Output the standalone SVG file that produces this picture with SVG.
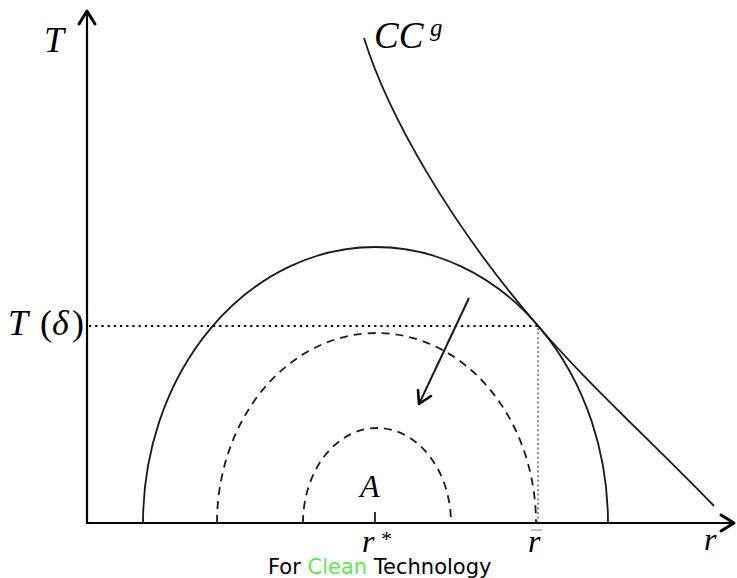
<svg xmlns="http://www.w3.org/2000/svg" width="737" height="578" viewBox="0 0 737 578">
<style>
.ax{stroke:#000;stroke-width:2.2;fill:none}
.ah{stroke:#000;stroke-width:3;fill:none;stroke-linecap:round;stroke-linejoin:round}
.solid{stroke:#1a1a1a;stroke-width:1.8;fill:none}
.dash{stroke:#1a1a1a;stroke-width:1.8;fill:none;stroke-dasharray:8 6}
.dot{stroke:#000;stroke-width:2;fill:none;stroke-dasharray:2.2 4}
.vdot{stroke:#666;stroke-width:1.5;fill:none;stroke-dasharray:2 2.6}
.m{font-family:"Liberation Serif",serif;font-style:italic;fill:#000}
.mu{font-family:"Liberation Serif",serif;fill:#000}
.cap{font-family:"DejaVu Sans","Liberation Sans",sans-serif;font-size:21px;fill:#000}
</style>
<rect width="737" height="578" fill="#fff"/>
<g id="axes">
<line class="ax" x1="87" y1="524" x2="87" y2="11"/>
<polyline class="ah" points="79,24 87,11 95,24"/>
<line class="ax" x1="86" y1="523" x2="734" y2="523"/>
<polyline class="ah" points="721,515 734,523 721,531"/>
<line class="ax" x1="375" y1="512" x2="375" y2="523" style="stroke-width:1.6"/>
</g>
<g id="ellipses">
<path class="solid" d="M143,523 A232.5,276 0 0 1 608,523"/>
<path class="dash" d="M217,523 A159.5,190 0 0 1 536,523"/>
<path class="dash" d="M303,523 A74,95 0 0 1 451,523"/>
</g>
<g id="ccg">
<path class="solid" d="M364,38 C388,115 450,224 538,326 C588,384 650,440 714,506"/>
</g>
<g id="guides">
<line class="dot" x1="89" y1="326" x2="538" y2="326"/>
<line class="vdot" x1="538" y1="328" x2="538" y2="522"/>
</g>
<g id="arrow">
<line class="solid" x1="469" y1="298" x2="419" y2="404" style="stroke-width:2"/>
<polyline class="ah" points="418,390 419,404 431,396" style="stroke-width:2.6"/>
</g>
<g id="labels">
<text class="m" x="44" y="52" font-size="36">T</text>
<text class="m" x="374" y="48" font-size="37">CC</text>
<text class="m" x="430" y="36" font-size="25">g</text>
<text class="m" x="8" y="335" font-size="36">T</text>
<text class="mu" x="40" y="335" font-size="36">(</text>
<text class="m" x="52" y="335" font-size="36">δ</text>
<text class="mu" x="72" y="335" font-size="36">)</text>
<text class="m" x="360" y="497" font-size="32">A</text>
<text class="m" x="362" y="552" font-size="32">r</text>
<text class="mu" x="381" y="546" font-size="22">*</text>
<text class="m" x="528" y="552" font-size="32">r</text>
<line x1="531" y1="530" x2="542" y2="530" stroke="#999" stroke-width="1.2"/>
<text class="m" x="704" y="550" font-size="32">r</text>
<text class="cap" x="268" y="574">For <tspan fill="#62e650">Clean</tspan> Technology</text>
</g>
</svg>
